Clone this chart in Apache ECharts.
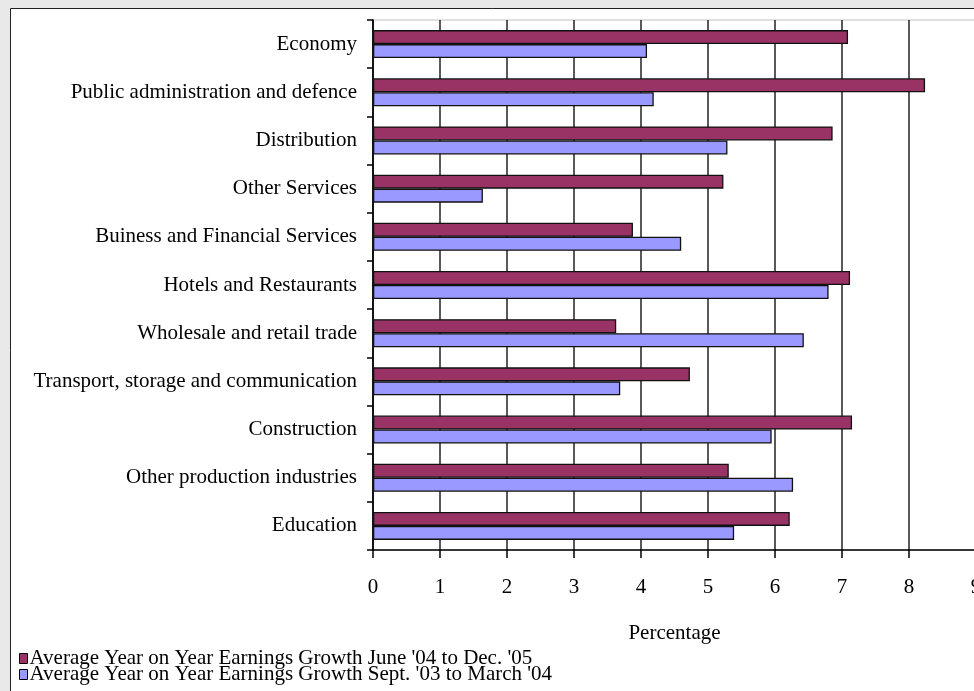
<!DOCTYPE html>
<html>
<head>
<meta charset="utf-8">
<script src="https://cdn.jsdelivr.net/npm/echarts@6/dist/echarts.min.js"></script>
<style>
  html, body { margin: 0; padding: 0; background: #e9e9e9; }
  #chart { width: 974px; height: 691px; }
</style>
</head>
<body>
<div id="chart"></div>
<script>
// Sectors, listed top to bottom
const categories = [
  'Economy',
  'Public administration and defence',
  'Distribution',
  'Other Services',
  'Buiness and Financial Services',
  'Hotels and Restaurants',
  'Wholesale and retail trade',
  'Transport, storage and communication',
  'Construction',
  'Other production industries',
  'Education'
];

// Average year-on-year earnings growth (%), June '04 to Dec. '05
const growthRecent = [7.09, 8.24, 6.86, 5.23, 3.88, 7.12, 3.63, 4.73, 7.15, 5.31, 6.22];
// Average year-on-year earnings growth (%), Sept. '03 to March '04
const growthEarlier = [4.09, 4.19, 5.29, 1.64, 4.60, 6.80, 6.43, 3.69, 5.95, 6.27, 5.39];

const seriesNames = [
  "Average Year on Year Earnings Growth June '04 to Dec. '05",
  "Average Year on Year Earnings Growth Sept. '03 to March '04"
];

const FONT = '"Liberation Serif", "DejaVu Serif", serif';
const FONT_SIZE = 21;

const chart = echarts.init(document.getElementById('chart'), null, { renderer: 'canvas' });

// one legend block per series, stacked at the bottom left
function legendRow(name, top) {
  return {
    orient: 'horizontal',
    left: 19,
    top: top,
    padding: 0,
    itemGap: 0,
    itemWidth: 8,
    itemHeight: 10,
    icon: 'rect',
    textStyle: { fontFamily: FONT, fontSize: FONT_SIZE, color: '#000', padding: [0, 0, 0, -3] },
    itemStyle: { borderColor: '#000', borderWidth: 1 },
    data: [name]
  };
}

chart.setOption({
  backgroundColor: '#e9e9e9',
  animation: false,
  textStyle: { fontFamily: FONT, color: '#000' },
  graphic: [{
    type: 'rect',
    z: -10,
    shape: { x: 10.5, y: 8.5, width: 1000, height: 720 },
    style: { fill: '#ffffff', stroke: '#222', lineWidth: 1 }
  }],
  grid: {
    left: 373,
    top: 20,
    width: 603,
    height: 530,
    outerBoundsMode: 'none',
    containLabel: false,
    show: true,
    borderColor: '#c0c0c0',
    borderWidth: 1,
    backgroundColor: 'transparent'
  },
  legend: [
    legendRow(seriesNames[0], 648),
    legendRow(seriesNames[1], 664)
  ],
  xAxis: {
    type: 'value',
    min: 0,
    max: 9,
    interval: 1,
    name: 'Percentage',
    nameLocation: 'middle',
    nameGap: 73,
    nameTextStyle: { fontFamily: FONT, fontSize: FONT_SIZE, color: '#000' },
    axisLine: { show: true, lineStyle: { color: '#000', width: 1.5 } },
    axisTick: { show: true, length: 8, lineStyle: { color: '#000', width: 1.5 } },
    axisLabel: { fontFamily: FONT, fontSize: FONT_SIZE, color: '#000', margin: 27 },
    splitLine: { show: true, lineStyle: { color: '#222', width: 1.5 } }
  },
  yAxis: {
    type: 'category',
    inverse: true,
    data: categories,
    axisLine: { show: true, lineStyle: { color: '#000', width: 1.5 } },
    axisTick: { show: true, length: 6, lineStyle: { color: '#000', width: 1.5 } },
    axisLabel: { fontFamily: FONT, fontSize: FONT_SIZE, color: '#000', margin: 16 },
    splitLine: { show: false }
  },
  series: [
    {
      name: seriesNames[0],
      type: 'bar',
      data: growthRecent,
      barWidth: 14,
      barGap: '0%',
      itemStyle: { color: '#993366', borderColor: '#111', borderWidth: 1.3 }
    },
    {
      name: seriesNames[1],
      type: 'bar',
      data: growthEarlier,
      barWidth: 14,
      barGap: '0%',
      itemStyle: { color: '#9999ff', borderColor: '#111', borderWidth: 1.3 }
    }
  ]
});
</script>
</body>
</html>
